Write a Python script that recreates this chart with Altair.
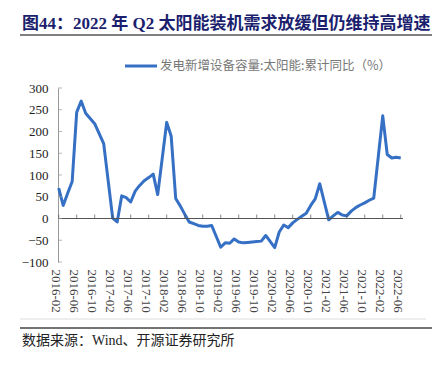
import altair as alt
import pandas as pd

# ---- data (January is not reported) ----
dates = [
    "2016-02", "2016-03", "2016-04", "2016-05", "2016-06", "2016-07", "2016-08", "2016-09", "2016-10", "2016-11", "2016-12",
    "2017-02", "2017-03", "2017-04", "2017-05", "2017-06", "2017-07", "2017-08", "2017-09", "2017-10", "2017-11", "2017-12",
    "2018-02", "2018-03", "2018-04", "2018-05", "2018-06", "2018-07", "2018-08", "2018-09", "2018-10", "2018-11", "2018-12",
    "2019-02", "2019-03", "2019-04", "2019-05", "2019-06", "2019-07", "2019-08", "2019-09", "2019-10", "2019-11", "2019-12",
    "2020-02", "2020-03", "2020-04", "2020-05", "2020-06", "2020-07", "2020-08", "2020-09", "2020-10", "2020-11", "2020-12",
    "2021-02", "2021-03", "2021-04", "2021-05", "2021-06", "2021-07", "2021-08", "2021-09", "2021-10", "2021-11", "2021-12",
    "2022-02", "2022-03", "2022-04", "2022-05", "2022-06",
]
values = [
    70, 30, 58, 85, 244, 270, 242, 230, 218, 195, 172,
    1, -8, 52, 48, 38, 63, 76, 87, 94, 102, 55,
    221, 189, 46, 29, 10, -8, -12, -16, -18, -18, -16,
    -66, -56, -57, -47, -54, -56, -55, -54, -53, -52, -39,
    -67, -31, -15, -21, -10, -2, 5, 12, 30, 45, 80,
    -3, 6, 14, 8, 6, 17, 25, 31, 36, 42, 47,
    236, 147, 139, 141, 139,
]
x_tick_labels = [
    "2016-02", "2016-06", "2016-10", "2017-02", "2017-06", "2017-10",
    "2018-02", "2018-06", "2018-10", "2019-02", "2019-06", "2019-10",
    "2020-02", "2020-06", "2020-10", "2021-02", "2021-06", "2021-10",
    "2022-02", "2022-06",
]
y_ticks = [-100, -50, 0, 50, 100, 150, 200, 250, 300]

title_text = "图44：2022 年 Q2 太阳能装机需求放缓但仍维持高增速"
legend_text = "发电新增设备容量:太阳能:累计同比（%）"
source_text = "数据来源：Wind、开源证券研究所"


def month_index(s):
    y, m = map(int, s.split("-"))
    return (y - 2016) * 12 + (m - 2)


df = pd.DataFrame({"date": dates, "value": values})
df["m"] = [month_index(d) for d in dates]
tick_df = pd.DataFrame({"m": [month_index(s) for s in x_tick_labels], "zero": 0})
ytick_df = pd.DataFrame({"v": y_ticks})

W, H = 345, 174
LINE = "#3570c4"
SERIF = "Liberation Serif, Noto Sans CJK SC"

x_scale = alt.Scale(domain=[-0.15, 76.5], nice=False, zero=False)
y_scale = alt.Scale(domain=[-100, 300], nice=False, zero=False)

label_expr = (
    "(2016 + floor((datum.value + 1) / 12)) + '-' + "
    "(((datum.value + 1) % 12 + 1) < 10 ? '0' : '') + ((datum.value + 1) % 12 + 1)"
)

x_axis = alt.Axis(
    values=[month_index(s) for s in x_tick_labels],
    labelExpr=label_expr,
    labelAngle=90,
    labelFont="Liberation Serif",
    labelFontSize=13,
    labelColor="#444",
    labelPadding=7,
    labelOffset=-3,
    labelOverlap=False,
    labelFlush=False,
    domain=False,
    ticks=False,
    grid=False,
    title=None,
)
y_axis = alt.Axis(
    values=y_ticks,
    labelFont="Liberation Serif",
    labelFontSize=13,
    labelColor="#222",
    labelPadding=10,
    labelOverlap=False,
    labelFlush=False,
    ticks=False,
    domainColor="#999",
    domainWidth=1,
    grid=False,
    title=None,
)

line = alt.Chart(df).mark_line(color=LINE, strokeWidth=3, strokeJoin="round").encode(
    x=alt.X("m:Q", scale=x_scale, axis=x_axis),
    y=alt.Y("value:Q", scale=y_scale, axis=y_axis),
)

zero_line = alt.Chart(pd.DataFrame({"y": [0]})).mark_rule(color="#555", strokeWidth=1).encode(
    y=alt.Y("y:Q", scale=y_scale, axis=y_axis), x=alt.value(0), x2=alt.value(W)
)

x_ticks = alt.Chart(tick_df).mark_tick(
    orient="vertical", size=4, thickness=1, color="#555", yOffset=-2
).encode(
    x=alt.X("m:Q", scale=x_scale, axis=x_axis),
    y=alt.Y("zero:Q", scale=y_scale, axis=y_axis),
)

y_inner_ticks = alt.Chart(ytick_df).mark_tick(
    orient="horizontal", size=4, thickness=1, color="#999", xOffset=2
).encode(y=alt.Y("v:Q", scale=y_scale, axis=y_axis), x=alt.value(0))

one = pd.DataFrame({"a": [0]})

title = alt.Chart(one).mark_text(
    text=title_text, font=SERIF, fontSize=17, fontWeight="bold", color="#1b1f6e",
    align="left", baseline="middle",
).encode(x=alt.value(-36), y=alt.value(-64))

title_rule = alt.Chart(one).mark_rule(color="#555", strokeWidth=1.5).encode(
    x=alt.value(-38), x2=alt.value(374), y=alt.value(-53)
)

legend_line = alt.Chart(one).mark_rule(color=LINE, strokeWidth=3).encode(
    x=alt.value(67), x2=alt.value(99), y=alt.value(-22)
)
legend_label = alt.Chart(one).mark_text(
    text=legend_text, font="Noto Sans CJK SC", fontSize=12.5, color="#777",
    align="left", baseline="middle",
).encode(x=alt.value(102), y=alt.value(-22))

bottom_light = alt.Chart(one).mark_rule(color="#ddd", strokeWidth=1).encode(
    x=alt.value(-38), x2=alt.value(368), y=alt.value(231)
)
bottom_dark = alt.Chart(one).mark_rule(color="#444", strokeWidth=1.5).encode(
    x=alt.value(-38), x2=alt.value(374), y=alt.value(240)
)
source = alt.Chart(one).mark_text(
    text=source_text, font=SERIF, fontSize=14, color="#222",
    align="left", baseline="middle",
).encode(x=alt.value(-36), y=alt.value(253))

chart = alt.layer(
    line, zero_line, x_ticks, y_inner_ticks,
    title, title_rule, legend_line, legend_label,
    bottom_light, bottom_dark, source,
).properties(
    width=W,
    height=H,
    autosize=alt.AutoSizeParams(type="none"),
    padding={"left": 50, "top": 80, "right": 30, "bottom": 90},
).configure_view(stroke=None)

chart.save("out.html", embed_options={"renderer": "svg", "actions": False})
